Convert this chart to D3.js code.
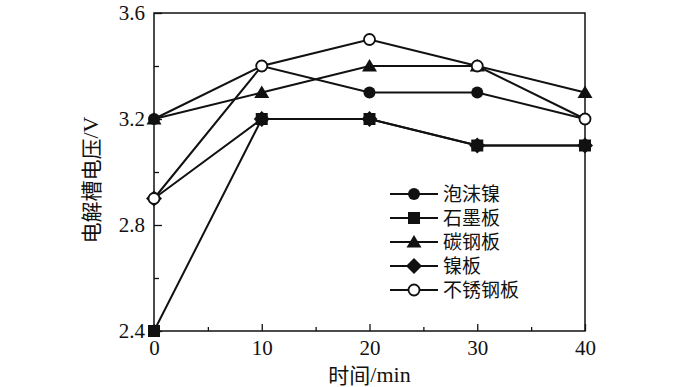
<!DOCTYPE html>
<html>
<head>
<meta charset="utf-8">
<script src="https://cdn.jsdelivr.net/npm/d3@7"></script>
<style>
  body { margin: 0; background: #fff; }
  svg text { fill: #111; }
  .num { font-family: "Liberation Serif", "DejaVu Serif", serif; font-size: 21px; }
  .cjk { font-family: "Noto Sans CJK SC", sans-serif; font-size: 19px; }
  .title .cjk { font-size: 21px; }
  .title .num { font-size: 22px; }
</style>
</head>
<body>
<svg id="chart"></svg>
<script>
var times = [0, 10, 20, 30, 40];
var seriesNames = ['泡沫镍', '石墨板', '碳钢板', '镍板', '不锈钢板'];
var seriesSymbols = ['circle', 'square', 'triangle', 'diamond', 'open'];
var foamNickel = [3.2, 3.4, 3.3, 3.3, 3.2];
var graphite = [2.4, 3.2, 3.2, 3.1, 3.1];
var carbonSteel = [3.2, 3.3, 3.4, 3.4, 3.3];
var nickelPlate = [2.9, 3.2, 3.2, 3.1, 3.1];
var stainless = [2.9, 3.4, 3.5, 3.4, 3.2];
var seriesValues = [foamNickel, graphite, carbonSteel, nickelPlate, stainless];
var xTicks = [0, 10, 20, 30, 40];
var yTicks = [2.4, 2.8, 3.2, 3.6];

var margin = { top: 13, right: 115, bottom: 56, left: 154 };
var W = 700, H = 387;
var width = W - margin.left - margin.right;
var height = H - margin.top - margin.bottom;

var svg = d3.select('#chart').attr('width', W).attr('height', H);
var chart = svg.append('g').attr('transform', `translate(${margin.left}, ${margin.top})`);

var x = d3.scaleLinear().domain([0, 40]).range([0, width]);
var y = d3.scaleLinear().domain([2.4, 3.6]).range([height, 0]);

// frame
chart.append('rect')
  .attr('width', width).attr('height', height)
  .attr('fill', 'none').attr('stroke', '#111').attr('stroke-width', 1.5);

// minor ticks
chart.append('g')
  .attr('transform', `translate(0, ${height})`)
  .call(d3.axisBottom(x).tickValues([5, 15, 25, 35]).tickSize(-4).tickFormat(''))
  .call(g => g.select('.domain').remove());
chart.append('g')
  .call(d3.axisLeft(y).tickValues([2.6, 3.0, 3.4]).tickSize(-5).tickFormat(''))
  .call(g => g.select('.domain').remove());

// major ticks
var xAxis = chart.append('g')
  .attr('transform', `translate(0, ${height})`)
  .call(d3.axisBottom(x).tickValues(xTicks).tickSize(-7).tickPadding(4).tickFormat(d3.format('d')));
var yAxis = chart.append('g')
  .call(d3.axisLeft(y).tickValues(yTicks).tickSize(-8).tickPadding(9).tickFormat(d3.format('.1f')));

[xAxis, yAxis].forEach(a => {
  a.select('.domain').remove();
  a.selectAll('text').attr('class', 'num').attr('fill', '#111');
});
chart.selectAll('.tick line').attr('stroke', '#111').attr('stroke-width', 1.3);
xAxis.selectAll('text').attr('dy', '0.95em');

var line = d3.line().x((d, i) => x(times[i])).y(d => y(d));

function drawMarker(g, sym, cx, cy) {
  if (sym === 'circle') {
    g.append('circle').attr('cx', cx).attr('cy', cy).attr('r', 6).attr('fill', '#111');
  } else if (sym === 'open') {
    g.append('circle').attr('cx', cx).attr('cy', cy).attr('r', 5.5)
      .attr('fill', '#fff').attr('stroke', '#111').attr('stroke-width', 1.8);
  } else if (sym === 'square') {
    g.append('rect').attr('x', cx - 6).attr('y', cy - 6).attr('width', 12).attr('height', 12).attr('fill', '#111');
  } else if (sym === 'triangle') {
    g.append('path').attr('d', `M${cx},${cy - 7}L${cx + 7.5},${cy + 5.5}L${cx - 7.5},${cy + 5.5}Z`).attr('fill', '#111');
  } else if (sym === 'diamond') {
    g.append('path').attr('d', `M${cx},${cy - 8}L${cx + 8},${cy}L${cx},${cy + 8}L${cx - 8},${cy}Z`).attr('fill', '#111');
  }
}

seriesValues.forEach((vals, s) => {
  chart.append('path')
    .attr('d', line(vals))
    .attr('fill', 'none').attr('stroke', '#111').attr('stroke-width', 2);
});
seriesValues.forEach((vals, s) => {
  var g = chart.append('g');
  vals.forEach((v, i) => drawMarker(g, seriesSymbols[s], x(times[i]), y(v)));
});

// legend
var legend = chart.append('g').attr('transform', `translate(${390 - margin.left}, ${194 - margin.top})`);
seriesNames.forEach((name, i) => {
  var row = legend.append('g').attr('transform', `translate(0, ${i * 24})`);
  row.append('line').attr('x1', 0).attr('x2', 48).attr('y1', 0).attr('y2', 0)
    .attr('stroke', '#111').attr('stroke-width', 2);
  drawMarker(row, seriesSymbols[i], 24, 0);
  row.append('text').attr('class', 'cjk').attr('x', 53).attr('y', 0).attr('dy', '0.36em').text(name);
});

// axis titles
svg.append('text')
  .attr('class', 'title')
  .attr('x', margin.left + x(20)).attr('y', 377)
  .attr('text-anchor', 'middle').attr('dominant-baseline', 'middle')
  .html('<tspan class="cjk">时间</tspan><tspan class="num">/min</tspan>');
svg.append('text')
  .attr('class', 'title')
  .attr('transform', `translate(93, 180) rotate(-90)`)
  .attr('text-anchor', 'middle').attr('dominant-baseline', 'middle')
  .html('<tspan class="cjk">电解槽电压</tspan><tspan class="num">/V</tspan>');
</script>
</body>
</html>
